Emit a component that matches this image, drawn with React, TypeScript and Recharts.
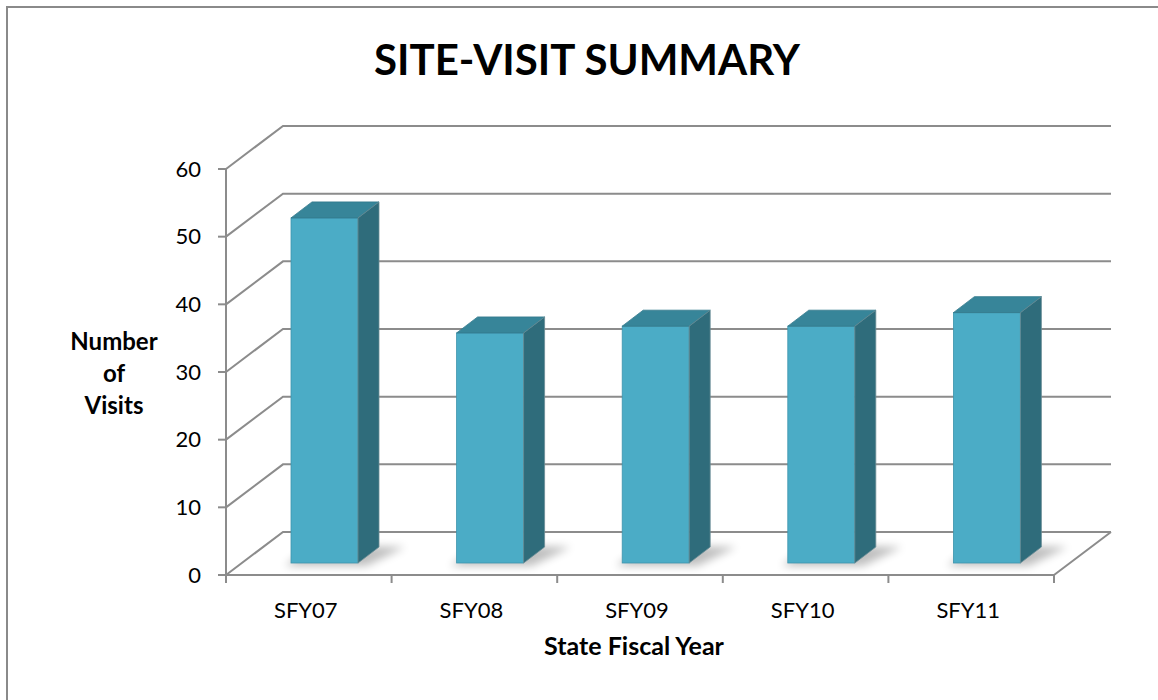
import React from "react";
import { BarChart, Bar, XAxis, YAxis, CartesianGrid } from "recharts";

// values
const years = ["SFY07", "SFY08", "SFY09", "SFY10", "SFY11"];
const visits = [51, 34, 35, 35, 37];
const yTicks = [0, 10, 20, 30, 40, 50, 60];

const data = years.map((year, i) => ({ year, visits: visits[i] }));

const FONT = "Lato, 'Noto Sans', sans-serif";
const GRID = "#8c8c8c";

// 3d projection: depth of the floor / back wall, and of the bars
const DEPTH_X = 57;
const DEPTH_Y = -43;
const BAR_OFF_X = 16;
const BAR_OFF_Y = -12;
const BAR_DX = 21;
const BAR_DY = -16;

const TICK_SIZE = 8;
const TICK_MARGIN = 10;

function gridLine(props: any) {
  const { x1, y1, x2, index } = props;
  const bottom = (props.y ?? 0) + (props.height ?? 0);
  const isFloor = Math.abs(y1 - bottom) < 0.5;
  let d = `M${x1},${y1} L${x1 + DEPTH_X},${y1 + DEPTH_Y} L${x2 + DEPTH_X},${y1 + DEPTH_Y}`;
  if (isFloor) d += ` M${x2},${y1} L${x2 + DEPTH_X},${y1 + DEPTH_Y}`;
  return (
    <path
      key={`grid-${index}`}
      d={d}
      fill="none"
      stroke={GRID}
      strokeWidth={2}
      strokeLinejoin="miter"
    />
  );
}

function Box3D(props: any) {
  const { x, y, width, height } = props;
  if (width == null || height == null) return null;
  const fx = x + BAR_OFF_X;
  const fy = y + BAR_OFF_Y;
  const bx = fx + width;
  const by = fy + height;
  const top = `${fx},${fy} ${fx + BAR_DX},${fy + BAR_DY} ${bx + BAR_DX},${fy + BAR_DY} ${bx},${fy}`;
  const side = `${bx},${fy} ${bx + BAR_DX},${fy + BAR_DY} ${bx + BAR_DX},${by + BAR_DY} ${bx},${by}`;
  const shadow = `${fx - 6},${by + 3} ${bx + 8},${by + 3} ${bx + BAR_DX + 26},${by + BAR_DY} ${fx + BAR_DX},${by + BAR_DY - 2}`;
  return (
    <g>
      <polygon points={shadow} fill="#000" opacity={0.25} filter="url(#barShadow)" />
      <rect x={fx} y={fy} width={width} height={height} fill="#4bacc6" stroke="#3e95ad" strokeWidth={0.8} />
      <polygon points={top} fill="#378599" stroke="#32798c" strokeWidth={0.8} />
      <polygon points={side} fill="#2f6c7b" stroke="#6a8d96" strokeWidth={0.8} />
    </g>
  );
}

function CategoryTick(props: any) {
  const { x, y, payload, index, visibleTicksCount } = props;
  const half = payload?.offset ?? 83;
  const axisY = y - TICK_SIZE - TICK_MARGIN;
  const isLast = index === visibleTicksCount - 1;
  return (
    <g>
      <line x1={x - half} y1={axisY} x2={x - half} y2={axisY + TICK_SIZE} stroke={GRID} strokeWidth={2} />
      {isLast && (
        <line x1={x + half} y1={axisY} x2={x + half} y2={axisY + TICK_SIZE} stroke={GRID} strokeWidth={2} />
      )}
      <text x={x - 3} y={axisY + 43} textAnchor="middle" fontFamily={FONT} fontSize={22} fill="#000">
        {payload.value}
      </text>
    </g>
  );
}

export default function App() {
  return (
    <div style={{ position: "relative", width: 1158, height: 700, overflow: "hidden", background: "#fff" }}>
      <style>{"body{margin:0}"}</style>
      <div
        style={{
          position: "absolute",
          left: 6,
          top: 6,
          width: 1300,
          height: 900,
          borderLeft: "2px solid #8a8a8a",
          borderTop: "2px solid #8a8a8a",
        }}
      />
      <BarChart
        width={1158}
        height={700}
        data={data}
        margin={{ top: 169, right: 104, left: 166, bottom: 85 }}
        style={{ position: "absolute", left: 0, top: 0 }}
      >
        <defs>
          <filter id="barShadow" x="-50%" y="-50%" width="200%" height="200%">
            <feGaussianBlur stdDeviation="4" />
          </filter>
        </defs>
        <CartesianGrid horizontal={gridLine} vertical={false} />
        <XAxis
          dataKey="year"
          height={40}
          tickLine={false}
          tickSize={TICK_SIZE}
          tickMargin={TICK_MARGIN}
          axisLine={{ stroke: GRID, strokeWidth: 2 }}
          tick={<CategoryTick />}
          interval={0}
        />
        <YAxis
          width={60}
          domain={[0, 60]}
          ticks={yTicks}
          interval={0}
          tickSize={TICK_SIZE}
          tickMargin={17}
          axisLine={{ stroke: GRID, strokeWidth: 2 }}
          tickLine={{ stroke: GRID, strokeWidth: 2 }}
          tick={{ fill: "#000", fontSize: 22, fontFamily: FONT }}
        />
        <Bar dataKey="visits" barSize={67} shape={<Box3D />} isAnimationActive={false} />
      </BarChart>
      <svg
        width={1158}
        height={700}
        style={{ position: "absolute", left: 0, top: 0, pointerEvents: "none" }}
      >
        <text x={587} y={75} textAnchor="middle" fontFamily={FONT} fontWeight={700} fontSize={42} fill="#000">
          SITE-VISIT SUMMARY
        </text>
        <g fontFamily={FONT} fontWeight={700} fontSize={24} fill="#000" textAnchor="middle">
          <text x={114} y={350}>Number</text>
          <text x={114} y={382}>of</text>
          <text x={114} y={414}>Visits</text>
        </g>
        <text x={634} y={655} textAnchor="middle" fontFamily={FONT} fontWeight={700} fontSize={25} fill="#000">
          State Fiscal Year
        </text>
      </svg>
    </div>
  );
}
